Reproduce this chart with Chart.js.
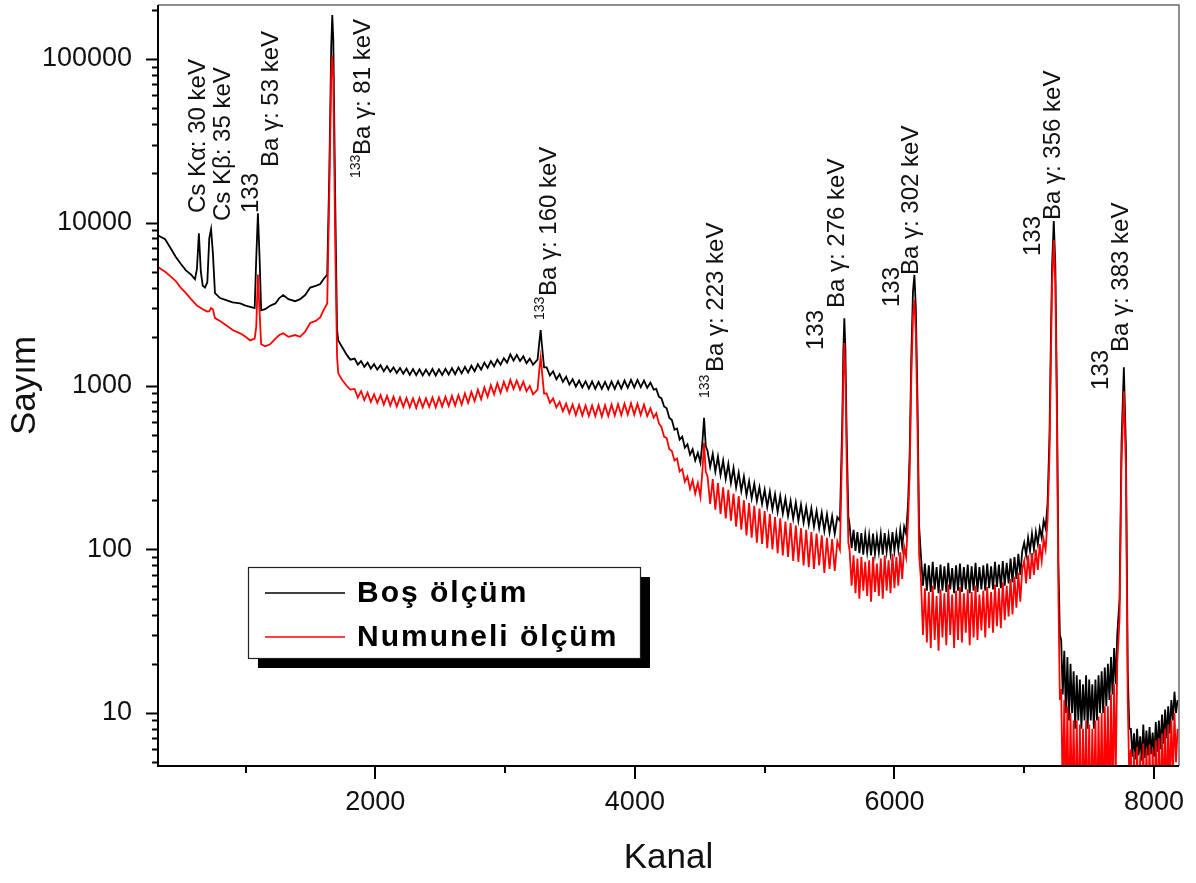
<!DOCTYPE html>
<html><head><meta charset="utf-8">
<script src="https://cdn.jsdelivr.net/npm/chart.js@4.4.0/dist/chart.umd.min.js"></script>
<style>html,body{margin:0;padding:0;background:#fff}#wrap{width:1196px;height:883px;position:relative}</style>
</head><body><div id="wrap"><canvas id="c"></canvas></div>
<script>
// ---- Data, by channel region ----
// A: low channels, Cs X-rays, 53 keV and 81 keV peaks
const kanalA = [330,380,420,460,500,540,580,610,625,640,655,670,687,705,720,734,748,764,803,850,
 900,958,1000,1035,1070,1082,1095,1108,1120,1150,1189,1230,1260,1290,1330,1382,1420,1459,1498,1540,
 1575,1600,1629,1645,1660,1668,1676,1690,1705,1714,1740,1780,1807];
const bosA = [8300,7900,7000,6200,5600,5100,4800,4500,5200,8600,5000,4100,4000,4300,8000,9100,6500,3700,3450,3350,
 3250,3200,3100,3050,3000,6000,11400,6000,2900,2950,3100,3200,3450,3600,3400,3300,3400,3600,4000,4100,
 4200,4500,4800,20000,120000,186000,130000,15000,2200,1900,1750,1550,1450];
const numA = [5300,5000,4700,4400,4000,3700,3400,3200,3100,3050,3000,2950,2900,2850,2870,3000,2950,2600,2500,2350,
 2200,2100,2000,1900,1950,2300,4800,2800,1800,1750,1800,1950,2050,2100,2000,2050,2000,2150,2430,2500,
 2630,2900,3200,15000,80000,105000,75000,8000,1500,1200,1100,1000,950];
// B: continuum 1840-3215
const kanalB = [1840,1865,1890,1915,1940,1965,1990,2015,2040,2065,2090,2115,2140,2165,2190,2215,2240,2265,2290,2315,
 2340,2365,2390,2415,2440,2465,2490,2515,2540,2565,2590,2615,2640,2665,2690,2715,2740,2765,2790,2815,
 2840,2865,2890,2915,2940,2965,2990,3015,3040,3065,3090,3115,3140,3165,3190,3215];
const bosB = [1470,1350,1420,1310,1390,1280,1360,1260,1340,1230,1320,1220,1300,1200,1290,1190,1280,1170,1270,1165,
 1265,1160,1260,1165,1270,1160,1265,1170,1275,1175,1285,1180,1300,1195,1310,1210,1330,1230,1360,1260,
 1390,1290,1420,1320,1450,1350,1480,1390,1560,1430,1550,1420,1520,1380,1470,1350];
const numB = [960,850,930,820,910,800,890,790,880,770,870,760,860,750,850,745,845,740,840,735,
 845,740,840,745,850,740,850,750,860,755,870,760,880,770,900,790,920,810,950,830,
 980,860,1010,890,1040,910,1060,940,1090,960,1080,950,1060,930,1000,890];
// 160 keV peak
const kanalP160 = [3250,3265,3274,3283,3300];
const bosP160 = [1450,1900,2200,1800,1300];
const numP160 = [950,1300,1500,1250,900];
// C: plateau 3320-4145
const kanalC = [3320,3345,3370,3395,3420,3445,3470,3495,3520,3545,3570,3595,3620,3645,3670,3695,3720,3745,3770,3795,
 3820,3845,3870,3895,3920,3945,3970,3995,4020,4045,4070,4095,4120,4145];
const bosC = [1300,1160,1230,1100,1180,1060,1140,1020,1100,990,1080,980,1070,965,1065,960,1060,960,1060,955,
 1065,960,1070,965,1080,975,1090,980,1090,985,1080,975,1050,950];
const numC = [900,790,840,740,800,700,780,680,770,665,765,660,760,655,760,655,765,650,760,655,
 770,660,775,665,780,670,785,670,780,665,770,655,730,640];
// D: Compton edge fall 4165-4505
const kanalD = [4165,4185,4205,4225,4245,4265,4285,4305,4325,4345,4365,4385,4405,4425,4445,4465,4485,4505];
const bosD = [960,860,840,750,730,640,620,540,550,470,490,420,440,380,410,350,390,340];
const numD = [680,590,560,490,480,410,400,350,360,300,310,260,280,235,265,220,255,210];
// 223 keV peak
const kanalP223 = [4520,4533,4546];
const bosP223 = [450,640,430];
const numP223 = [300,450,300];
// E: 4560-5580
const kanalE = [4560,4580,4600,4620,4640,4660,4680,4700,4720,4740,4760,4780,4800,4820,4840,4860,4880,4900,4920,4940,
 4960,4980,5000,5020,5040,5060,5080,5100,5120,5140,5160,5180,5200,5220,5240,5260,5280,5300,5320,5340,
 5360,5380,5400,5420,5440,5460,5480,5500,5520,5540,5560,5580];
const bosE = [400,320,385,300,370,285,350,270,335,255,315,240,295,228,280,215,262,205,252,198,
 240,190,232,182,226,176,218,170,212,166,205,160,198,154,194,150,188,146,182,142,
 178,138,172,135,168,130,164,127,160,125,158,150];
const numE = [280,190,270,175,255,165,240,155,232,150,220,138,212,132,200,122,192,118,185,110,
 178,108,172,102,165,100,158,95,155,92,148,90,145,85,140,84,135,80,132,78,
 128,76,125,80,122,72,118,76,116,74,112,100];
// 276 keV peak
const kanalP276 = [5598,5606,5614,5622,5632,5645];
const bosP276 = [600,1600,2600,1700,500,160];
const numP276 = [450,1100,1830,1200,350,110];
// F: 5655-6105
const kanalF = [5655,5670,5685,5700,5715,5730,5745,5760,5775,5790,5805,5820,5835,5850,5865,5880,5895,5910,5925,5940,
 5955,5970,5985,6000,6015,6030,6045,6060,6075,6090,6105];
const bosF = [140,102,132,98,128,95,126,93,124,96,122,92,125,94,120,96,124,93,126,97,
 122,95,128,98,125,100,132,104,138,125,190];
const numF = [98,60,92,54,88,50,90,56,84,52,86,48,90,55,82,52,88,50,92,56,
 86,54,94,58,90,60,96,66,104,90,150];
// 302 keV peak
const kanalP302 = [6118,6130,6143,6154,6165,6178,6190];
const bosP302 = [400,1500,3800,4780,3000,800,140];
const numP302 = [300,1100,2700,3360,2100,550,95];
// G: 6205-6985
const kanalG = [6205,6220,6235,6250,6265,6280,6295,6310,6325,6340,6355,6370,6385,6400,6415,6430,6445,6460,6475,6490,
 6505,6520,6535,6550,6565,6580,6595,6610,6625,6640,6655,6670,6685,6700,6715,6730,6745,6760,6775,6790,
 6805,6820,6835,6850,6865,6880,6895,6910,6925,6940,6955,6970,6985];
const bosG = [90,60,82,56,80,55,84,57,78,54,81,56,79,55,83,57,77,54,80,56,
 82,55,78,57,81,54,79,56,83,55,78,57,80,56,82,58,79,57,84,59,
 81,58,85,60,83,62,88,63,90,66,94,70,98];
const numG = [64,30,58,27,55,25,60,28,52,24,57,29,54,26,61,30,53,25,56,28,
 59,27,54,31,57,26,55,29,60,28,53,32,56,29,59,33,55,31,61,34,
 58,33,63,37,60,39,66,40,68,44,72,48,76];
// R: rise before 356 keV
const kanalR = [7000,7015,7030,7045,7060,7075,7090,7105,7120,7135,7150,7165,7180];
const bosR = [110,92,118,98,125,100,128,108,135,118,150,135,190];
const numR = [85,62,92,66,95,70,100,75,108,85,115,100,150];
// 356 keV peak
const kanalP356 = [7195,7205,7215,7228,7240,7252,7264,7275];
const bosP356 = [500,1800,5500,10200,5500,900,80,30];
const numP356 = [380,1300,4200,7800,4200,650,50,12];
// H: 7285-7717
const kanalH = [7285,7297,7309,7321,7333,7345,7357,7369,7381,7393,7405,7417,7429,7441,7453,7465,7477,7489,7501,7513,
 7525,7537,7549,7561,7573,7585,7597,7609,7621,7633,7645,7657,7669,7681,7693,7705,7717];
const bosH = [28,13,24,10,22,9,20,10,18,8,17,9,16,8,15,9,17,8,16,9,
 15,8,16,9,17,10,18,10,19,11,20,12,22,13,25,15,30];
const numH = [14,3,12,2.5,11,2,10,2.5,9,2,9,2,8.5,2,8,2.5,9,2,8.5,2,
 8,2.5,9,2,9.5,2.5,10,2,11,3,11,2.5,13,3,15,4,20];
// 383 keV peak
const kanalP383 = [7735,7750,7768,7784,7798,7810];
const bosP383 = [50,450,1300,420,18,8];
const numP383 = [38,340,930,310,12,4];
// I: 7822-8182
const kanalI = [7822,7834,7846,7858,7870,7882,7894,7906,7918,7930,7942,7954,7966,7978,7990,8002,8014,8026,8038,8050,
 8062,8074,8086,8098,8110,8122,8134,8146,8158,8170,8182];
const bosI = [8,5.4,7.5,5.2,8,5.5,7.2,5.1,8.5,5.3,7.8,5.5,8.2,5.6,7.6,5.4,8.8,5.8,9,6,
 9.8,6.5,10.5,7,11,7.5,12,9,13.5,10,12];
const numI = [6,2,5.8,2,6.2,2.2,5.5,2,6.5,2,6,2.5,6.4,2,6,2.2,6.8,2.5,7,2.5,
 7.5,3,8,3,8.5,3.5,9,4,10,5,8];

const kanal = [].concat(kanalA,kanalB,kanalP160,kanalC,kanalD,kanalP223,kanalE,kanalP276,kanalF,kanalP302,kanalG,kanalR,kanalP356,kanalH,kanalP383,kanalI);
const bosSayim = [].concat(bosA,bosB,bosP160,bosC,bosD,bosP223,bosE,bosP276,bosF,bosP302,bosG,bosR,bosP356,bosH,bosP383,bosI);
const numuneliSayim = [].concat(numA,numB,numP160,numC,numD,numP223,numE,numP276,numF,numP302,numG,numR,numP356,numH,numP383,numI);

const seriesNames = ['Boş ölçüm', 'Numuneli ölçüm'];
const xMajorTicks = [2000, 4000, 6000, 8000];
const xMinorTicks = [1000, 3000, 5000, 7000];
const yMajorTicks = [10, 100, 1000, 10000, 100000];
const axisTitleX = 'Kanal';
const axisTitleY = 'Sayım';
// Peak labels anchored at (channel, count) of the text baseline start
const peakLabelText = ['Cs Kα: 30 keV','Cs Kβ: 35 keV','133','Ba γ: 53 keV','133','Ba γ: 81 keV','133','Ba γ: 160 keV','133','Ba γ: 223 keV','133','Ba γ: 276 keV','133','Ba γ: 302 keV','133','Ba γ: 356 keV','133','Ba γ: 383 keV'];
const peakLabelKanal = [687,880,1097,1251,1884,1961,3297,3390,4571,4680,5452,5614,6039,6185,7120,7274,7645,7799];
const peakLabelSayim = [11430,10200,11430,21840,18700,25860,2535,3550,845,1218,1660,3000,3040,4775,6240,10360,946,1614];
const peakLabelSup = [0,0,0,0,1,0,1,0,1,0,0,0,0,0,0,0,0,0];

const FONT = "'Liberation Sans', Arial, sans-serif";

const deco = {
  id: 'deco',
  afterDraw(chart) {
    const {ctx, chartArea: a, scales: {x, y}} = chart;
    ctx.save();
    ctx.lineWidth = 1.5; ctx.strokeStyle = '#6a6a6a';
    ctx.beginPath(); ctx.moveTo(a.left, a.top); ctx.lineTo(a.right, a.top); ctx.lineTo(a.right, a.bottom); ctx.stroke();
    ctx.lineWidth = 2; ctx.strokeStyle = '#000';
    ctx.beginPath(); ctx.moveTo(a.left, a.top); ctx.lineTo(a.left, a.bottom); ctx.lineTo(a.right, a.bottom); ctx.stroke();
    for (let e = 0; e <= 6; e++) {
      for (let m = 1; m <= 9; m++) {
        const v = m * Math.pow(10, e);
        if (v < y.min || v > y.max) continue;
        const py = Math.round(y.getPixelForValue(v)) + 0.5;
        const len = m === 1 ? 12 : 6;
        ctx.beginPath(); ctx.moveTo(a.left - len, py); ctx.lineTo(a.left, py); ctx.stroke();
      }
    }
    xMajorTicks.forEach(v => { const px = Math.round(x.getPixelForValue(v)); ctx.beginPath(); ctx.moveTo(px, a.bottom); ctx.lineTo(px, a.bottom + 13); ctx.stroke(); });
    xMinorTicks.forEach(v => { const px = Math.round(x.getPixelForValue(v)); ctx.beginPath(); ctx.moveTo(px, a.bottom); ctx.lineTo(px, a.bottom + 7); ctx.stroke(); });
    ctx.fillStyle = '#111';
    ctx.textAlign = 'left'; ctx.textBaseline = 'alphabetic';
    peakLabelText.forEach((t, i) => {
      const px = x.getPixelForValue(peakLabelKanal[i]);
      const py = y.getPixelForValue(peakLabelSayim[i]);
      ctx.save();
      ctx.translate(px, py); ctx.rotate(-Math.PI / 2);
      ctx.font = (peakLabelSup[i] ? 14 : 24) + 'px ' + FONT;
      ctx.fillText(t, 0, 0);
      ctx.restore();
    });
    const lx = a.left + 90, ly = a.top + 562, lw = 392, lh = 91;
    ctx.fillStyle = '#000';
    ctx.fillRect(lx + 10, ly + 10, lw, lh);
    ctx.fillStyle = '#fff';
    ctx.fillRect(lx, ly, lw, lh);
    ctx.lineWidth = 1.2; ctx.strokeStyle = '#222';
    ctx.strokeRect(lx + 0.5, ly + 0.5, lw, lh);
    const ds = chart.data.datasets;
    [0, 1].forEach(i => {
      const yy = ly + 26 + i * 44;
      ctx.strokeStyle = ds[i].borderColor; ctx.lineWidth = 1.5;
      ctx.beginPath(); ctx.moveTo(lx + 17, yy); ctx.lineTo(lx + 97, yy); ctx.stroke();
      ctx.fillStyle = '#000';
      ctx.font = 'bold 30px ' + FONT;
      if ('letterSpacing' in ctx) ctx.letterSpacing = '2px';
      ctx.textBaseline = 'middle';
      ctx.fillText(ds[i].label, lx + 109, yy + 1);
      if ('letterSpacing' in ctx) ctx.letterSpacing = '0px';
    });
    ctx.restore();
  }
};

new Chart(document.getElementById('c'), {
  type: 'line',
  data: {
    datasets: [
      {label: seriesNames[0], data: kanal.map((k, i) => ({x: k, y: bosSayim[i]})), borderColor: '#000000', borderWidth: 1.8, pointRadius: 0, tension: 0, order: 1},
      {label: seriesNames[1], data: kanal.map((k, i) => ({x: k, y: numuneliSayim[i]})), borderColor: '#ff0000', borderWidth: 1.8, pointRadius: 0, tension: 0, order: 0}
    ]
  },
  options: {
    responsive: true, maintainAspectRatio: false, animation: false, devicePixelRatio: 1,
    layout: {padding: {top: 5, right: 17, left: 0, bottom: 0}},
    plugins: {legend: {display: false}, tooltip: {enabled: false}},
    scales: {
      x: {
        type: 'linear', min: 325, max: 8193,
        grid: {display: false, drawTicks: false}, border: {display: false},
        afterBuildTicks: s => { s.ticks = xMajorTicks.map(v => ({value: v})); },
        afterFit: s => { s.height = 117; s.paddingLeft = 0; s.paddingRight = 0; },
        ticks: {autoSkip: false, maxRotation: 0, padding: 20, color: '#111', font: {family: FONT, size: 27}, callback: v => String(v)},
        title: {display: true, text: axisTitleX, color: '#111', font: {family: FONT, size: 35}, padding: {top: 0, bottom: 4}}
      },
      y: {
        type: 'logarithmic', min: 4.74, max: 214000,
        grid: {display: false, drawTicks: false}, border: {display: false},
        afterBuildTicks: s => { s.ticks = yMajorTicks.map(v => ({value: v})); },
        afterFit: s => { s.width = 158; s.paddingTop = 0; s.paddingBottom = 0; },
        ticks: {autoSkip: false, padding: 26, color: '#111', font: {family: FONT, size: 27}, callback: v => String(v)},
        title: {display: true, text: axisTitleY, color: '#111', font: {family: FONT, size: 35}, padding: {top: 4, bottom: 0}}
      }
    }
  },
  plugins: [deco]
});
</script>
</body></html>
